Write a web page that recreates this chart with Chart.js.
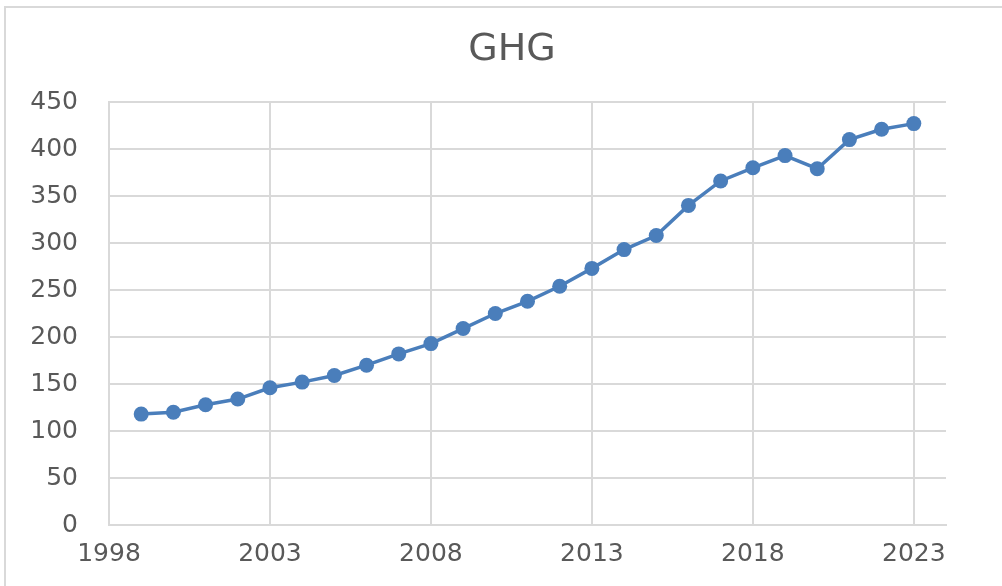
<!DOCTYPE html>
<html>
<head>
<meta charset="utf-8">
<script src="https://cdn.jsdelivr.net/npm/chart.js@4/dist/chart.umd.min.js"></script>
<style>
  html, body { margin: 0; padding: 0; background: #ffffff; overflow: hidden; }
  #wrap { position: relative; width: 1002px; height: 586px; }
  #frame {
    position: absolute; left: 4px; top: 6px; width: 1100px; height: 700px;
    border: 2px solid #d9d9d9; box-sizing: border-box;
  }
  #chart { position: absolute; left: 0; top: 0; }
</style>
</head>
<body>
<div id="wrap">
  <div id="frame"></div>
  <canvas id="chart" width="1002" height="586"></canvas>
</div>
<script>
// Datos
const years = [1999, 2000, 2001, 2002, 2003, 2004, 2005, 2006, 2007, 2008, 2009, 2010,
  2011, 2012, 2013, 2014, 2015, 2016, 2017, 2018, 2019, 2020, 2021, 2022, 2023];
const ghg = [118, 120, 128, 134, 146, 152, 159, 170, 182, 193, 209, 225,
  238, 254, 273, 293, 308, 340, 366, 380, 393, 379, 410, 421, 427];
const xTicks = [1998, 2003, 2008, 2013, 2018, 2023];
const chartTitle = "GHG";

const textColor = "#595959";
const gridColor = "#d9d9d9";
const font = "'DejaVu Sans', Verdana, sans-serif";

// Titulo centrado sobre todo el lienzo (no solo el area del grafico)
const titlePlugin = {
  id: "centeredTitle",
  afterDraw(chart) {
    const c = chart.ctx;
    c.save();
    c.fillStyle = textColor;
    c.font = "38px " + font;
    c.textAlign = "center";
    c.textBaseline = "middle";
    c.fillText(chartTitle, 512, 50);
    c.restore();
  }
};

const ctx = document.getElementById("chart").getContext("2d");

new Chart(ctx, {
  type: "line",
  data: {
    datasets: [{
      label: chartTitle,
      data: years.map((y, i) => ({ x: y, y: ghg[i] })),
      borderColor: "#4a7ebb",
      backgroundColor: "#4a7ebb",
      borderWidth: 3.5,
      pointRadius: 7.5,
      pointBorderWidth: 0,
      tension: 0
    }]
  },
  options: {
    responsive: false,
    animation: false,
    layout: {
      padding: { left: 0, right: 56, top: 102, bottom: 0 }
    },
    plugins: {
      legend: { display: false },
      tooltip: { enabled: false },
      title: { display: false }
    },
    scales: {
      x: {
        type: "linear",
        min: 1998,
        max: 2024,
        afterBuildTicks: scale => {
          scale.ticks = xTicks.map(v => ({ value: v }));
        },
        afterFit: scale => { scale.height = 61; },
        grid: { color: gridColor, lineWidth: 2, drawTicks: false },
        border: { color: gridColor, width: 2 },
        ticks: {
          color: textColor,
          padding: 14,
          maxRotation: 0,
          autoSkip: false,
          font: { family: font, size: 25 },
          callback: v => String(v)
        }
      },
      y: {
        min: 0,
        max: 450,
        afterFit: scale => { scale.width = 109; },
        grid: { color: gridColor, lineWidth: 2, drawTicks: false },
        border: { color: gridColor, width: 2 },
        ticks: {
          stepSize: 50,
          color: textColor,
          padding: 31,
          font: { family: font, size: 25 }
        }
      }
    }
  },
  plugins: [titlePlugin]
});
</script>
</body>
</html>
